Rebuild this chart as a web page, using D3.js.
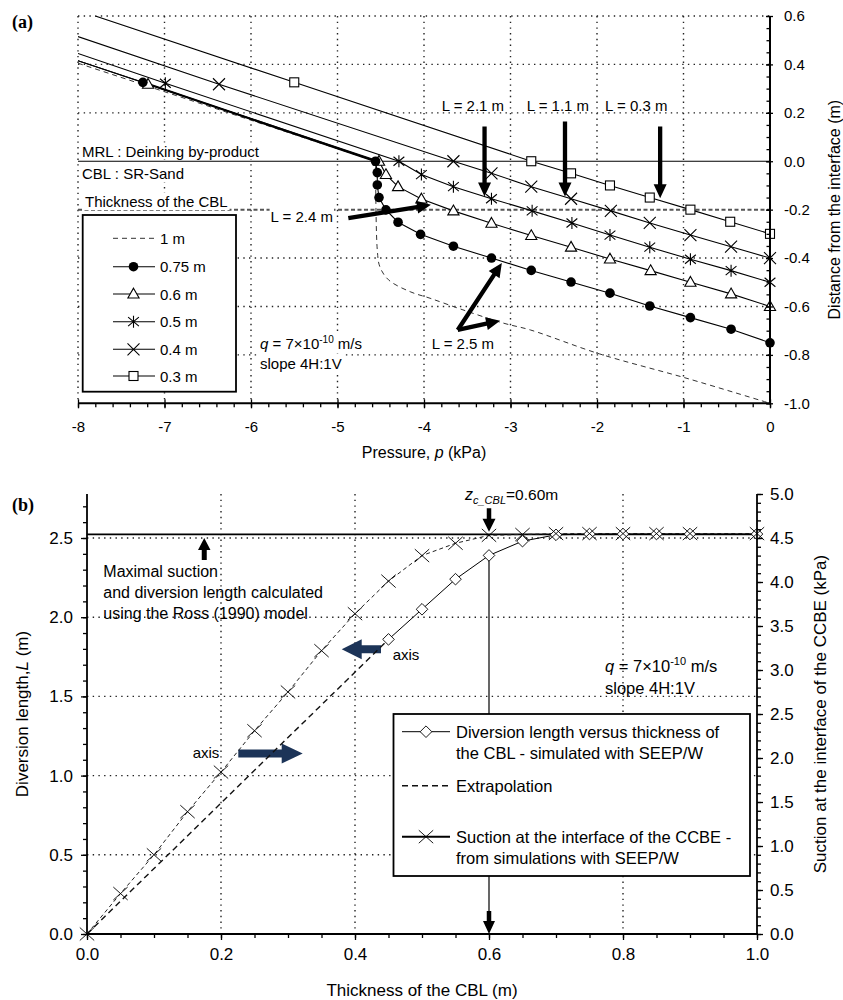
<!DOCTYPE html>
<html><head><meta charset="utf-8">
<script src="https://cdn.jsdelivr.net/npm/d3@7"></script>
<style>body{margin:0;background:#fff} svg{display:block}</style>
</head><body><svg id="chart" width="843" height="1000"></svg>
<script>
// ================= Panel (a) data =================
const pTicksA = [-8,-7,-6,-5,-4,-3,-2,-1,0];
const zTicksA = [0.6,0.4,0.2,0,-0.2,-0.4,-0.6,-0.8,-1.0];
const gridPA = [-8,-7,-6,-5,-4,-3,-2,-1];
const gridZA = [0.6,0.4,0.2,-0.4,-0.6,-0.8];
const interfaceZ = 0;
const cblThicknessZ = -0.2;
const legendA = ["1 m","0.75 m","0.6 m","0.5 m","0.4 m","0.3 m"];
const markerA = ["none","circle","triangle","asterisk","x","square"];

const p_1m  = [-8.00,-4.56,-4.54,-4.51,-4.41,-4.16,-3.93,-3.55,-3.08,-2.77,-1.97,-0.96,0];
const z_1m  = [0.405,0,-0.367,-0.436,-0.49,-0.539,-0.566,-0.614,-0.669,-0.697,-0.796,-0.897,-1.0];
const p_075 = [-8.00,-7.25,-4.56,-4.54,-4.54,-4.52,-4.44,-4.30,-4.04,-3.66,-3.22,-2.76,-2.30,-1.85,-1.39,-0.92,-0.45,0];
const z_075 = [0.415,0.326,0,-0.047,-0.098,-0.150,-0.201,-0.252,-0.302,-0.351,-0.400,-0.451,-0.499,-0.545,-0.598,-0.646,-0.694,-0.750];
const p_06  = [-8.00,-7.19,-4.52,-4.44,-4.30,-4.03,-3.66,-3.22,-2.76,-2.30,-1.85,-1.38,-0.92,-0.45,0];
const z_06  = [0.415,0.318,0,-0.055,-0.105,-0.156,-0.205,-0.256,-0.307,-0.355,-0.404,-0.452,-0.500,-0.548,-0.600];
const p_05  = [-8.00,-6.99,-4.29,-4.03,-3.66,-3.22,-2.75,-2.29,-1.85,-1.39,-0.92,-0.45,0];
const z_05  = [0.445,0.322,0,-0.055,-0.105,-0.155,-0.205,-0.255,-0.305,-0.355,-0.405,-0.452,-0.500];
const p_04  = [-8.00,-6.37,-3.66,-3.22,-2.76,-2.30,-1.84,-1.39,-0.92,-0.45,0];
const z_04  = [0.515,0.318,0,-0.050,-0.105,-0.155,-0.205,-0.255,-0.305,-0.353,-0.400];
const p_03  = [-7.80,-5.50,-2.76,-2.30,-1.85,-1.39,-0.92,-0.46,0];
const z_03  = [0.600,0.326,0,-0.050,-0.100,-0.150,-0.200,-0.250,-0.300];

// ================= Panel (b) data =================
const tTicksB = [0,0.2,0.4,0.6,0.8,1.0];
const LTicksB = [0,0.5,1.0,1.5,2.0,2.5];
const sTicksB = [0,0.5,1.0,1.5,2.0,2.5,3.0,3.5,4.0,4.5,5.0];
const gridTB = [0.2,0.4,0.8];
const gridLB = [0.5,1.0,1.5,2.0,2.5];
const t_div = [0.45,0.50,0.55,0.60,0.65,0.70,0.75,0.80,0.85,0.90,1.00];
const L_div = [1.86,2.05,2.24,2.39,2.48,2.52,2.525,2.525,2.525,2.525,2.525];
const t_ext = [0,0.45];
const L_ext = [0,1.86];
const t_suc = [0,0.05,0.10,0.15,0.20,0.25,0.30,0.35,0.40,0.45,0.50,0.55,0.60,0.65,0.70,0.75,0.80,0.85,0.90,1.00];
const s_suc = [0,0.46,0.90,1.39,1.84,2.31,2.75,3.22,3.64,4.01,4.30,4.44,4.53,4.54,4.55,4.55,4.55,4.55,4.55,4.55];
const L_ross = 2.523;
const t_crit = 0.60;
const legendB = [["Diversion length versus thickness of","the CBL - simulated with SEEP/W"],["Extrapolation"],["Suction at the interface of the CCBE -","from simulations with SEEP/W"]];

// ================= helpers =================
const FONT = '"Liberation Sans", Arial, Helvetica, sans-serif';
const svg = d3.select("#chart");
const zip = (a,b) => a.map((v,i)=>[v,b[i]]);

function marker(g, type, x, y, k=1) {
  const sw = 1.1;
  if (type === "circle") g.append("circle").attr("cx",x).attr("cy",y).attr("r",4.8*k).attr("fill","#000");
  else if (type === "triangle") g.append("path").attr("d",`M${x},${y-5.8*k}L${x+5.6*k},${y+4*k}L${x-5.6*k},${y+4*k}Z`).attr("fill","#fff").attr("stroke","#000").attr("stroke-width",sw);
  else if (type === "square") g.append("rect").attr("x",x-4.5*k).attr("y",y-4.5*k).attr("width",9*k).attr("height",9*k).attr("fill","#fff").attr("stroke","#000").attr("stroke-width",sw);
  else if (type === "x") { const s=6*k; g.append("path").attr("d",`M${x-s},${y-s}L${x+s},${y+s}M${x-s},${y+s}L${x+s},${y-s}`).attr("stroke","#000").attr("stroke-width",sw).attr("fill","none"); }
  else if (type === "bigx") { const s=7.2*k; g.append("path").attr("d",`M${x-s},${y-s*0.9}L${x+s},${y+s*0.9}M${x-s},${y+s*0.9}L${x+s},${y-s*0.9}`).attr("stroke","#000").attr("stroke-width",0.9).attr("fill","none"); }
  else if (type === "asterisk") { const s=6*k; g.append("path").attr("d",`M${x},${y-s}L${x},${y+s}M${x-5.4*k},${y-4.5*k}L${x+5.4*k},${y+4.5*k}M${x-5.4*k},${y+4.5*k}L${x+5.4*k},${y-4.5*k}`).attr("stroke","#000").attr("stroke-width",sw).attr("fill","none"); }
  else if (type === "diamond") { const s=5.8*k; g.append("path").attr("d",`M${x},${y-s}L${x+s},${y}L${x},${y+s}L${x-s},${y}Z`).attr("fill","#fff").attr("stroke","#000").attr("stroke-width",0.9); }
}

function arrow(g, x1,y1,x2,y2, sw, hl, hw, color) {
  const dx=x2-x1, dy=y2-y1, len=Math.hypot(dx,dy), ux=dx/len, uy=dy/len, nx=-uy, ny=ux;
  const bx=x2-ux*hl, by=y2-uy*hl;
  const pts=[[x1+nx*sw/2,y1+ny*sw/2],[bx+nx*sw/2,by+ny*sw/2],[bx+nx*hw/2,by+ny*hw/2],[x2,y2],[bx-nx*hw/2,by-ny*hw/2],[bx-nx*sw/2,by-ny*sw/2],[x1-nx*sw/2,y1-ny*sw/2]];
  g.append("path").attr("d","M"+pts.map(p=>p.join(",")).join("L")+"Z").attr("fill",color).attr("stroke","none");
}

function txt(g, x, y, s, size, anchor="start") {
  return g.append("text").attr("x",x).attr("y",y).attr("font-family",FONT).attr("font-size",size).attr("text-anchor",anchor).attr("fill","#000").text(s);
}
function bg(g, t, padX=2, padY=1) {
  const b = t.node().getBBox();
  g.insert("rect", () => t.node()).attr("x",b.x-padX).attr("y",b.y-padY).attr("width",b.width+2*padX).attr("height",b.height+2*padY).attr("fill","#fff");
}
function styleAxis(sel, size) {
  sel.select(".domain").remove();
  sel.selectAll(".tick line").attr("stroke","#000").attr("stroke-width",1.3);
  sel.selectAll(".tick text").attr("font-family",FONT).attr("font-size",size).attr("fill","#000");
}
const fmt1 = d => (Math.abs(d)<1e-9 ? "0.0" : d.toFixed(1));

// ================= Panel (a) =================
const xA = d3.scaleLinear().domain([-8,0]).range([78,770]);
const yA = d3.scaleLinear().domain([-1,0.6]).range([403.3,16]);
const gA = svg.append("g");

svg.append("text").attr("x",12).attr("y",28).attr("font-family",'"Liberation Serif","Times New Roman",serif').attr("font-weight","bold").attr("font-size",18).text("(a)");

// grid
gA.selectAll(".gv").data(gridPA).join("line").attr("x1",d=>xA(d)).attr("x2",d=>xA(d)).attr("y1",yA(0.6)).attr("y2",yA(-1))
  .attr("stroke","#222").attr("stroke-width",1.4).attr("stroke-dasharray","1.4,4.3");
gA.selectAll(".gh").data(gridZA).join("line").attr("x1",xA(-8)).attr("x2",xA(0)).attr("y1",d=>yA(d)).attr("y2",d=>yA(d))
  .attr("stroke","#222").attr("stroke-width",1.4).attr("stroke-dasharray","1.4,4.3");
gA.append("line").attr("x1",xA(-8)).attr("x2",xA(0)).attr("y1",yA(interfaceZ)).attr("y2",yA(interfaceZ)).attr("stroke","#000").attr("stroke-width",1.1);
gA.append("line").attr("x1",xA(-8)).attr("x2",xA(0)).attr("y1",yA(cblThicknessZ)).attr("y2",yA(cblThicknessZ)).attr("stroke","#555").attr("stroke-width",2).attr("stroke-dasharray","4,2.5");

// text labels with white backgrounds
let t;
t = txt(gA, 82, 156.5, "MRL : Deinking by-product", 15); bg(gA,t,2,0);
t = txt(gA, 82, 178.5, "CBL : SR-Sand", 15); bg(gA,t,2,1);
t = txt(gA, 85, 207, "Thickness of the CBL", 15); bg(gA,t,2,0);
t = txt(gA, 333, 222, "L = 2.4 m", 15, "end"); bg(gA,t,1,0);

// legend box (a)
gA.append("rect").attr("x",82.7).attr("y",215).attr("width",153.3).attr("height",176.7).attr("fill","#fff").attr("stroke","#000").attr("stroke-width",1.8);

// q text (a)
const qA = gA.append("text").attr("x",260).attr("y",348.5).attr("font-family",FONT).attr("font-size",15);
qA.append("tspan").attr("font-style","italic").text("q");
qA.append("tspan").text(" = 7×10");
qA.append("tspan").attr("font-size",10).attr("dy",-6).text("-10");
qA.append("tspan").attr("dy",6).text(" m/s");
bg(gA,qA,3,2);
t = txt(gA, 260, 369, "slope 4H:1V", 15); bg(gA,t,3,1);

// curves
const clipA = svg.append("clipPath").attr("id","clipA").append("rect").attr("x",xA(-8)).attr("y",yA(0.6)).attr("width",xA(0)-xA(-8)).attr("height",yA(-1)-yA(0.6));
const lineA = d3.line().x(d=>xA(d[0])).y(d=>yA(d[1]));
const curveA = d3.line().x(d=>xA(d[0])).y(d=>yA(d[1])).curve(d3.curveCatmullRom.alpha(0.5));
const cg = gA.append("g").attr("clip-path","url(#clipA)");
const dataA = [zip(p_1m,z_1m), zip(p_075,z_075), zip(p_06,z_06), zip(p_05,z_05), zip(p_04,z_04), zip(p_03,z_03)];
// 1 m dashed
const d1 = dataA[0];
cg.append("path").attr("d", lineA(d1.slice(0,2)) + curveA(d1.slice(1)).replace(/^M[^CL]*/, m => "L"+m.slice(1)))
  .attr("fill","none").attr("stroke","#333").attr("stroke-width",1).attr("stroke-dasharray","5,4");
for (let i=1;i<dataA.length;i++) {
  cg.append("path").attr("d",lineA(dataA[i])).attr("fill","none").attr("stroke","#000").attr("stroke-width",1.1);
}
// thicker MRL segment of 0.75 m
cg.append("path").attr("d",lineA(dataA[1].slice(1,3))).attr("fill","none").attr("stroke","#000").attr("stroke-width",2.2);
const mg = gA.append("g");
for (let i=dataA.length-1;i>=1;i--) {
  dataA[i].slice(1).forEach(d => marker(mg, markerA[i], xA(d[0]), yA(d[1])));
}

// legend entries (a)
const legY = [238.3,266.7,294,321.7,349.3,376];
legendA.forEach((name,i) => {
  const y = legY[i];
  if (i===0) gA.append("line").attr("x1",113).attr("x2",154).attr("y1",y).attr("y2",y).attr("stroke","#333").attr("stroke-width",1).attr("stroke-dasharray","5,4");
  else {
    gA.append("line").attr("x1",113).attr("x2",155).attr("y1",y).attr("y2",y).attr("stroke","#000").attr("stroke-width",1.1);
    marker(gA, markerA[i], 133.5, y);
  }
  txt(gA, 160, y+5.5, name, 15);
});

// L annotations (a)
txt(gA, 441.7, 110.5, "L = 2.1 m", 15);
txt(gA, 526.7, 110.5, "L = 1.1 m", 15);
txt(gA, 605, 110.5, "L = 0.3 m", 15);
txt(gA, 431.7, 349, "L = 2.5 m", 15);
const arrowsA = [
  {f:[-4.875,-0.2355], t:[-3.92,-0.18]},
  {f:[-3.30,0.143], t:[-3.30,-0.146]},
  {f:[-2.37,0.164], t:[-2.37,-0.146]},
  {f:[-1.27,0.143], t:[-1.27,-0.153]},
  {f:[-3.61,-0.697], t:[-3.10,-0.42]},
  {f:[-3.61,-0.697], t:[-3.12,-0.659]}
];
arrowsA.forEach(a => arrow(gA, xA(a.f[0]), yA(a.f[1]), xA(a.t[0]), yA(a.t[1]), 4.3, 14, 13, "#000"));

// axes (a)
const axB = gA.append("g").attr("transform",`translate(0,${yA(-1)})`);
axB.append("g").call(d3.axisBottom(xA).tickValues(d3.range(0,41).map(i=>-8+i*0.2)).tickSize(4).tickSizeOuter(0).tickFormat("")).call(s=>styleAxis(s,15));
axB.append("g").call(d3.axisBottom(xA).tickValues(pTicksA).tickSize(5).tickSizeOuter(0).tickPadding(13).tickFormat(d=>String(d))).call(s=>{styleAxis(s,15); s.selectAll(".tick line").attr("y1",-4);});
axB.append("line").attr("x1",xA(-8)).attr("x2",xA(0)+1).attr("y1",0).attr("y2",0).attr("stroke","#000").attr("stroke-width",2);

const axR = gA.append("g").attr("transform",`translate(${xA(0)},0)`);
axR.append("g").call(d3.axisLeft(yA).tickValues(d3.range(0,33).map(i=>-1+i*0.05)).tickSize(3.5).tickSizeOuter(0).tickFormat("")).call(s=>styleAxis(s,15));
axR.append("g").call(d3.axisRight(yA).tickValues(zTicksA).tickSize(3).tickSizeOuter(0).tickPadding(11).tickFormat(fmt1)).call(s=>{styleAxis(s,15); s.selectAll(".tick line").attr("x1",-4);});
axR.append("line").attr("x1",0).attr("x2",0).attr("y1",yA(0.6)).attr("y2",yA(-1)+1).attr("stroke","#000").attr("stroke-width",2);

const xtA = gA.append("text").attr("x",(xA(-8)+xA(0))/2).attr("y",458).attr("text-anchor","middle").attr("font-family",FONT).attr("font-size",16);
xtA.append("tspan").text("Pressure, ");
xtA.append("tspan").attr("font-style","italic").text("p");
xtA.append("tspan").text(" (kPa)");
gA.append("text").attr("transform",`translate(840,${(yA(0.6)+yA(-1))/2}) rotate(-90)`).attr("text-anchor","middle").attr("font-family",FONT).attr("font-size",16).text("Distance from the interface (m)");

// ================= Panel (b) =================
const xB = d3.scaleLinear().domain([0,1]).range([87,757]);
const yBL = d3.scaleLinear().domain([0,5/1.8]).range([934,494]);
const yBR = d3.scaleLinear().domain([0,5]).range([934,494]);
const gB = svg.append("g");
svg.append("text").attr("x",12).attr("y",511).attr("font-family",'"Liberation Serif","Times New Roman",serif').attr("font-weight","bold").attr("font-size",18).text("(b)");

gB.selectAll(".gv").data(gridTB).join("line").attr("x1",d=>xB(d)).attr("x2",d=>xB(d)).attr("y1",yBL.range()[1]).attr("y2",934)
  .attr("stroke","#222").attr("stroke-width",1.4).attr("stroke-dasharray","1.4,4.3");
gB.selectAll(".gh").data(gridLB).join("line").attr("x1",xB(0)).attr("x2",xB(1)).attr("y1",d=>yBL(d)).attr("y2",d=>yBL(d))
  .attr("stroke","#222").attr("stroke-width",1.4).attr("stroke-dasharray","1.4,4.3");
// Ross maximal line
gB.append("line").attr("x1",xB(0)).attr("x2",xB(1)).attr("y1",yBL(L_ross)).attr("y2",yBL(L_ross)).attr("stroke","#000").attr("stroke-width",1.6);

// vertical critical thickness line
const divPts = zip(t_div,L_div);
const critL = L_div[t_div.indexOf(t_crit)];
gB.append("line").attr("x1",xB(t_crit)).attr("x2",xB(t_crit)).attr("y1",yBL(critL)).attr("y2",yBL(0)-20).attr("stroke","#000").attr("stroke-width",1.2);
arrow(gB, xB(t_crit), yBL(0)-23, xB(t_crit), yBL(0), 4.5, 13, 12, "#000");
arrow(gB, xB(t_crit), 508.3, xB(t_crit), 531.7, 4.5, 13, 13, "#000");

// text annotations (b)
const zc = gB.append("text").attr("x",465).attr("y",500).attr("font-family",FONT).attr("font-size",16);
zc.append("tspan").attr("font-style","italic").text("z");
zc.append("tspan").attr("font-style","italic").attr("font-size",11).attr("dy",4).text("c_CBL");
zc.append("tspan").attr("dy",-4).attr("font-size",15.5).text("=0.60m");

txt(gB, 103.3, 577, "Maximal suction", 16);
txt(gB, 103.3, 598, "and diversion length calculated", 16);
txt(gB, 103.3, 618.5, "using the Ross (1990) model", 16);
arrow(gB, xB(0.175), 560, xB(0.175), yBL(2.5), 5, 12, 12.5, "#000");

const qB = gB.append("text").attr("x",605).attr("y",672).attr("font-family",FONT).attr("font-size",16.5);
qB.append("tspan").attr("font-style","italic").text("q");
qB.append("tspan").text(" = 7×10");
qB.append("tspan").attr("font-size",11).attr("dy",-7).text("-10");
qB.append("tspan").attr("dy",7).text(" m/s");
txt(gB, 605, 694, "slope 4H:1V", 16.5);

const NAVY = "#1c3458";
arrow(gB, 381, yBL(1.797), 341.7, yBL(1.797), 8, 20, 20, NAVY);
arrow(gB, 238.3, yBL(1.14), 302.7, yBL(1.14), 8, 21, 20, NAVY);
txt(gB, 392.7, 660, "axis", 15);
txt(gB, 192.7, 758, "axis", 15);

// curves (b)
const lineBL = d3.line().x(d=>xB(d[0])).y(d=>yBL(d[1]));
const lineBR = d3.line().x(d=>xB(d[0])).y(d=>yBR(d[1]));
const sucPts = zip(t_suc,s_suc);
gB.append("path").attr("d",lineBR(sucPts)).attr("fill","none").attr("stroke","#222").attr("stroke-width",1).attr("stroke-dasharray","4,3");
gB.append("path").attr("d",lineBL(zip(t_ext,L_ext))).attr("fill","none").attr("stroke","#111").attr("stroke-width",1.4).attr("stroke-dasharray","6,4");
gB.append("path").attr("d",lineBL(divPts)).attr("fill","none").attr("stroke","#000").attr("stroke-width",1);
divPts.forEach(d => marker(gB,"diamond",xB(d[0]),yBL(d[1])));
sucPts.forEach(d => marker(gB,"bigx",xB(d[0]),yBR(d[1])));

// legend (b)
gB.append("rect").attr("x",393.5).attr("y",714).attr("width",356.5).attr("height",162).attr("fill","#fff").attr("stroke","#000").attr("stroke-width",1.8);
const lgY = [731.7,785.7,836.7];
gB.append("line").attr("x1",402).attr("x2",450).attr("y1",lgY[0]).attr("y2",lgY[0]).attr("stroke","#000").attr("stroke-width",1);
marker(gB,"diamond",426,lgY[0]);
gB.append("line").attr("x1",402).attr("x2",450).attr("y1",lgY[1]).attr("y2",lgY[1]).attr("stroke","#111").attr("stroke-width",1.4).attr("stroke-dasharray","6,4");
gB.append("line").attr("x1",402).attr("x2",450).attr("y1",lgY[2]).attr("y2",lgY[2]).attr("stroke","#000").attr("stroke-width",2);
marker(gB,"bigx",426,lgY[2]);
legendB.forEach((lines,i) => lines.forEach((s,j) => txt(gB, 456, lgY[i]+6+j*21.6, s, 16.5)));

// axes (b)
const bB = gB.append("g").attr("transform","translate(0,934)");
bB.append("g").call(d3.axisBottom(xB).tickValues(d3.range(0,21).map(i=>i*0.05)).tickSize(4).tickSizeOuter(0).tickFormat("")).call(s=>styleAxis(s,17));
bB.append("g").call(d3.axisBottom(xB).tickValues(tTicksB).tickSize(6).tickSizeOuter(0).tickPadding(8).tickFormat(fmt1)).call(s=>styleAxis(s,17));
bB.append("line").attr("x1",xB(0)-1).attr("x2",xB(1)+1).attr("y1",0).attr("y2",0).attr("stroke","#000").attr("stroke-width",1.8);

const lB = gB.append("g").attr("transform",`translate(${xB(0)},0)`);
lB.append("g").call(d3.axisLeft(yBL).tickValues(d3.range(0,28).map(i=>i*0.1)).tickSize(4).tickSizeOuter(0).tickFormat("")).call(s=>styleAxis(s,17));
lB.append("g").call(d3.axisLeft(yBL).tickValues(LTicksB).tickSize(6).tickSizeOuter(0).tickPadding(8).tickFormat(fmt1)).call(s=>styleAxis(s,17));
lB.append("line").attr("x1",0).attr("x2",0).attr("y1",494).attr("y2",935).attr("stroke","#000").attr("stroke-width",1.8);

const rB = gB.append("g").attr("transform",`translate(${xB(1)},0)`);
rB.append("g").call(d3.axisRight(yBR).tickValues(d3.range(0,51).map(i=>i*0.1)).tickSize(4).tickSizeOuter(0).tickFormat("")).call(s=>styleAxis(s,17));
rB.append("g").call(d3.axisRight(yBR).tickValues(sTicksB).tickSize(6).tickSizeOuter(0).tickPadding(7).tickFormat(fmt1)).call(s=>styleAxis(s,17));
rB.append("line").attr("x1",0).attr("x2",0).attr("y1",494).attr("y2",935).attr("stroke","#000").attr("stroke-width",1.8);

gB.append("text").attr("x",(xB(0)+xB(1))/2).attr("y",996).attr("text-anchor","middle").attr("font-family",FONT).attr("font-size",17).text("Thickness of the CBL (m)");
const ylB = gB.append("text").attr("transform",`translate(28,714) rotate(-90)`).attr("text-anchor","middle").attr("font-family",FONT).attr("font-size",17);
ylB.append("tspan").text("Diversion length,");
ylB.append("tspan").attr("font-style","italic").text("L");
ylB.append("tspan").text("  (m)");
gB.append("text").attr("transform",`translate(826,714) rotate(-90)`).attr("text-anchor","middle").attr("font-family",FONT).attr("font-size",17).text("Suction at the interface of the CCBE (kPa)");
</script></body></html>
